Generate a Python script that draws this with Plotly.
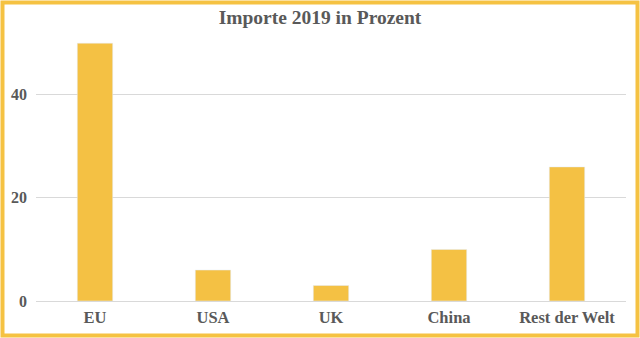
import plotly.graph_objects as go

categories = ["EU", "USA", "UK", "China", "Rest der Welt"]
values = [50, 6, 3, 10, 26]
y_ticks = [0, 20, 40]

fig = go.Figure(go.Bar(x=categories, y=values, marker_color="#F4C144", width=0.3))

font = "Liberation Serif, Times New Roman, serif"
fig.update_layout(
    width=640, height=338,
    margin=dict(l=36, r=14, t=38, b=37),
    paper_bgcolor="white", plot_bgcolor="white",
    title=dict(text="<b>Importe 2019 in Prozent</b>", x=0.5, xanchor="center", y=0.95, yanchor="middle",
               font=dict(family=font, size=19.5, color="#595959")),
    showlegend=False,
    font=dict(family=font, size=16, color="#595959"),
    xaxis=dict(showline=False, ticks="", tickfont=dict(family=font, size=16.5, color="#595959"),
               ticklabelstandoff=4, automargin=False),
    yaxis=dict(range=[0, 51], tickvals=y_ticks, ticktext=[f"<b>{v}</b>" for v in y_ticks],
               tickfont=dict(family=font, size=16, color="#595959"), automargin=False,
               showgrid=True, gridcolor="#D9D9D9", gridwidth=1, zeroline=True, zerolinecolor="#D9D9D9",
               zerolinewidth=1, ticks="", ticklabelstandoff=8),
    shapes=[dict(type="rect", xref="paper", yref="paper", x0=-33.5/590, x1=1+11.5/590,
                 y0=-34.5/263, y1=1+35.5/263, line=dict(color="#F5C242", width=4), layer="above")],
)
fig.update_xaxes(ticktext=[f"<b>{c}</b>" for c in categories], tickvals=categories)
fig.write_html("out.html")
